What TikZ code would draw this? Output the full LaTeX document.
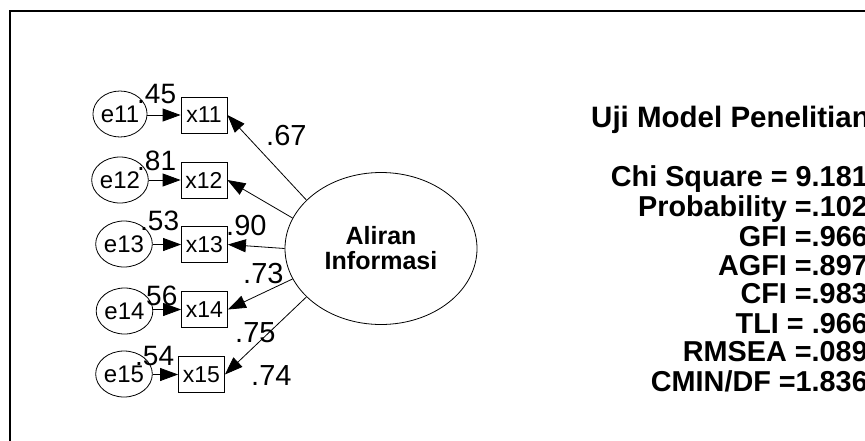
\documentclass[tikz,border=0pt]{standalone}
\usepackage{fontspec}
\setmainfont{Liberation Sans}
\usetikzlibrary{arrows.meta,shapes.geometric}
\begin{document}
\begin{tikzpicture}[x=1pt,y=-1pt,
  obs/.style={draw, rectangle, line width=0.8pt, minimum width=46pt, minimum height=36pt, inner sep=0pt, font=\fontsize{23}{23}\selectfont},
  err/.style={draw, ellipse, line width=0.8pt, minimum width=38pt, minimum height=46pt, inner sep=0pt, font=\fontsize{24}{24}\selectfont},
  lat/.style={draw, ellipse, line width=0.8pt, minimum width=192pt, minimum height=152pt, inner sep=0pt, align=center, font=\bfseries\fontsize{25}{25}\selectfont},
  wlab/.style={anchor=base west, inner sep=0pt, font=\fontsize{28}{28}\selectfont},
  llab/.style={anchor=base west, inner sep=0pt, font=\fontsize{29}{29}\selectfont},
  link/.style={-{Triangle[length=18pt,width=13pt]}, line width=0.8pt},
  fitline/.style={anchor=base east, inner sep=0pt, font=\bfseries\fontsize{28.8}{28.8}\selectfont}
]
\useasboundingbox (0,0) rectangle (865,440);
\clip (0,0) rectangle (865,440);
\fill[white] (0,0) rectangle (865,440);

% outer frame
\draw[line width=2.3pt] (10.2,11.2) rectangle (900,480);

% latent variable
\node[lat] (F) at (381,248.5) {Aliran\\Informasi};

% indicators
\node[obs] (x11) at (204,115) {x11};
\node[obs] (x12) at (204,180) {x12};
\node[obs] (x13) at (204.5,244.5) {x13};
\node[obs] (x14) at (204.5,309.5) {x14};
\node[obs] (x15) at (201.5,374.5) {x15};

% error terms
\node[err] (e11) at (120,114) {e11};
\node[err] (e12) at (120,180) {e12};
\node[err] (e13) at (124,244) {e13};
\node[err] (e14) at (124.5,311) {e14};
\node[err] (e15) at (124,374) {e15};

% error paths
\draw[link] (e11.east |- x11.west) -- (x11.west);
\draw[link] (e12.east |- x12.west) -- (x12.west);
\draw[link] (e13.east |- x13.west) -- (x13.west);
\draw[link] (e14.east |- x14.west) -- (x14.west);
\draw[link] (e15.east |- x15.west) -- (x15.west);

% loadings
\draw[link] (F.147) -- (x11.east);
\draw[link] (F.161) -- (x12.east);
\draw[link] (F.180) -- (x13.east);
\draw[link] (F.199) -- (x14.east);
\draw[link] (F.213) -- (x15.east);

% squared multiple correlations
\node[wlab] (r11) at (137,103) {.45};
\node[wlab] (r12) at (137,170) {.81};
\node[wlab] (r13) at (140,230) {.53};
\node[wlab] (r14) at (146,305) {56};
\node[wlab] (r15) at (135,365) {.54};

% standardized loadings
\node[llab] (l11) at (266,145) {.67};
\node[llab] (l13) at (226,235) {.90};
\node[llab] (l14) at (243,283) {.73};
\node[llab] (l15) at (235,342) {.75};
\node[llab] (l16) at (251,385) {.74};

% model fit
\node[anchor=base west, inner sep=0pt, font=\bfseries\fontsize{29.5}{29.5}\selectfont] (title) at (591,127) {Uji Model Penelitian};
\node[fitline] (f1) at (868,186) {Chi Square = 9.181};
\node[fitline] (f2) at (868,216.7) {Probability =.102};
\node[fitline] (f3) at (868,246.7) {GFI =.966};
\node[fitline] (f4) at (868,275) {AGFI =.897};
\node[fitline] (f5) at (868,303.3) {CFI =.983};
\node[fitline] (f6) at (868,333.3) {TLI = .966};
\node[fitline] (f7) at (868,361.7) {RMSEA =.089};
\node[fitline] (f8) at (868,391) {CMIN/DF =1.836};
\end{tikzpicture}
\end{document}
